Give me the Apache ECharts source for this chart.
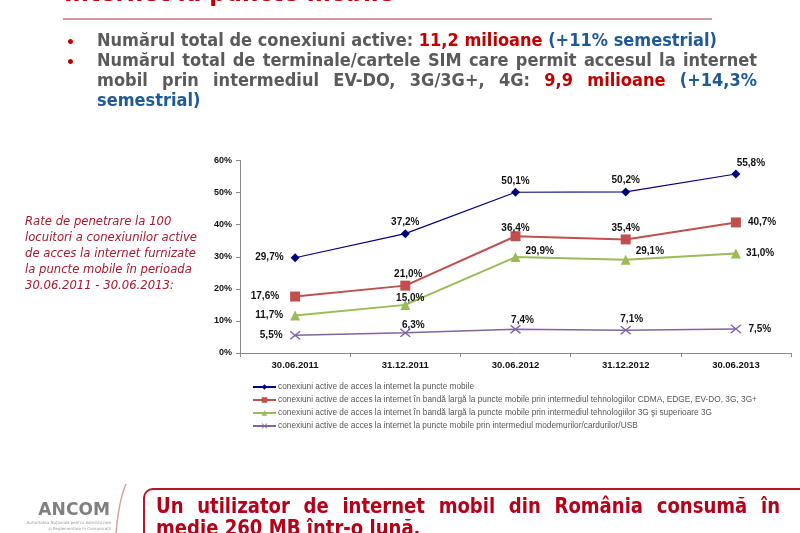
<!DOCTYPE html>
<html><head><meta charset="utf-8">
<script src="https://cdn.jsdelivr.net/npm/echarts@6/dist/echarts.min.js"></script>
<style>html,body{margin:0;padding:0;background:#fff}#c{width:800px;height:533px}</style>
</head><body><div id="c"></div>
<script>
// ---------- data ----------
const categories = ['30.06.2011', '31.12.2011', '30.06.2012', '31.12.2012', '30.06.2013'];
const seriesNames = [
  'conexiuni active de acces la internet la puncte mobile',
  'conexiuni active de acces la internet în bandă largă la puncte mobile prin intermediul tehnologiilor CDMA, EDGE, EV-DO, 3G, 3G+',
  'conexiuni active de acces la internet în bandă largă la puncte mobile prin intermediul tehnologiilor 3G şi superioare 3G',
  'conexiuni active de acces la internet la puncte mobile prin intermediul modemurilor/cardurilor/USB'
];
const activeMobile = [29.7, 37.2, 50.1, 50.2, 55.8];
const broadbandCdma3g = [17.6, 21.0, 36.4, 35.4, 40.7];
const broadband3gPlus = [11.7, 15.0, 29.9, 29.1, 31.0];
const modemUsb = [5.5, 6.3, 7.4, 7.1, 7.5];
const yMin = 0, yMax = 60, yStep = 10;

// ---------- styles ----------
const colors = ['#000080', '#c0504d', '#9bbb59', '#8064a2'];
const symbols = ['diamond', 'rect', 'triangle', 'path://M0,1L1,0L5,4L9,0L10,1L6,5L10,9L9,10L5,6L1,10L0,9L4,5Z'];
const symbolSizes = [9, 10, 10, [11, 9]];
const lineWidths = [1.2, 2, 2, 1.5];
const labelPlacement = [
  [['left', [-2, 0]], ['top', [0, 3]], ['top', [0, 3]], ['top', [0, 3]], ['top', [15, 4]]],
  [['left', [-6, 0]], ['top', [3, 4]], ['top', [0, 7]], ['top', [0, 4]], ['right', [2, 0]]],
  [['left', [-2, 0]], ['top', [5, 8]], ['right', [0, -6]], ['right', [0, -8]], ['right', [0, 0]]],
  [['left', [-2, 0]], ['top', [8, 7]], ['top', [7, 5]], ['top', [6, 4]], ['right', [2, 0]]]
];
const seriesValues = [activeMobile, broadbandCdma3g, broadband3gPlus, modemUsb];
const fmt = v => v.toFixed(1).replace('.', ',') + '%';

// ---------- text helpers ----------
const mctx = document.createElement('canvas').getContext('2d');
function mw(t, font) { mctx.font = font; return mctx.measureText(t).width; }
function words(segments) {
  const out = [];
  segments.forEach(s => s.t.split(' ').filter(w => w).forEach(w => out.push({ t: w, c: s.c })));
  return out;
}
function textRow(segments, x0, y, font, scale, x1) {
  const ws = words(segments);
  const widths = ws.map(w => mw(w.t, font) * scale);
  const total = widths.reduce((a, b) => a + b, 0);
  const gap = x1 ? (x1 - x0 - total) / (ws.length - 1) : mw(' ', font) * scale;
  let x = x0;
  return ws.map((w, i) => {
    const el = { type: 'text', x: x, y: y, scaleX: scale, silent: true,
      style: { text: w.t, font: font, fill: w.c, align: 'left', verticalAlign: 'middle' } };
    x += widths[i] + gap;
    return el;
  });
}

const gray = '#5a5a5a', red = '#c00000', blue = '#1f5a96';
const bulletFont = 'bold 17px "DejaVu Sans"';
const line1 = [{ t: 'Numărul total de conexiuni active:', c: gray }, { t: '11,2 milioane', c: red }, { t: '(+11% semestrial)', c: blue }];
const line1Natural = words(line1).reduce((a, w) => a + mw(w.t, bulletFont), 0) + (words(line1).length - 1) * mw(' ', bulletFont);
const bScale = 620 / line1Natural;

const graphics = [];
// title (cut off at top)
graphics.push({ type: 'text', x: 64, y: -6, silent: true,
  style: { text: 'Internet la puncte mobile', font: 'bold 25px "DejaVu Sans"', fill: '#c00000', verticalAlign: 'middle' }, scaleX: 0.92 });
graphics.push({ type: 'line', silent: true, shape: { x1: 63, y1: 19, x2: 712, y2: 19 }, style: { stroke: '#a8323e', lineWidth: 1.2 } });
// bullets
graphics.push({ type: 'text', x: 66, y: 43, silent: true, style: { text: '•', font: 'bold 14px "DejaVu Sans"', fill: red, verticalAlign: 'middle' } });
graphics.push({ type: 'text', x: 66, y: 63, silent: true, style: { text: '•', font: 'bold 14px "DejaVu Sans"', fill: red, verticalAlign: 'middle' } });
graphics.push(...textRow(line1, 97, 42, bulletFont, bScale));
graphics.push(...textRow([{ t: 'Numărul total de terminale/cartele SIM care permit accesul la internet', c: gray }], 97, 62, bulletFont, bScale, 757));
graphics.push(...textRow([{ t: 'mobil prin intermediul EV-DO, 3G/3G+, 4G:', c: gray }, { t: '9,9 milioane', c: red }, { t: '(+14,3%', c: blue }], 97, 82, bulletFont, bScale, 757));
graphics.push(...textRow([{ t: 'semestrial)', c: blue }], 97, 102, bulletFont, bScale));

// left italic note
const noteLines = ['Rate de penetrare la 100', 'locuitori a conexiunilor active', 'de acces la internet furnizate', 'la puncte mobile în perioada', '30.06.2011 - 30.06.2013:'];
const noteFont = 'italic 13px "DejaVu Sans"';
const noteScale = 172 / mw(noteLines[1], noteFont);
noteLines.forEach((t, i) => graphics.push({ type: 'text', x: 25, y: 222 + i * 15.8, scaleX: noteScale, silent: true,
  style: { text: t, font: noteFont, fill: '#a8192e', verticalAlign: 'middle' } }));

// bottom: logo + message box
graphics.push({ type: 'text', x: 110, y: 510, silent: true, scaleX: 0.95,
  style: { text: 'ANCOM', font: 'bold 18px "DejaVu Sans"', fill: '#808080', align: 'right', verticalAlign: 'middle' } });
graphics.push({ type: 'text', x: 111, y: 523, silent: true,
  style: { text: 'Autoritatea Naţională pentru Administrare', font: '4px "DejaVu Sans"', fill: '#999', align: 'right', verticalAlign: 'middle' } });
graphics.push({ type: 'text', x: 111, y: 529, silent: true,
  style: { text: 'şi Reglementare în Comunicaţii', font: '4px "DejaVu Sans"', fill: '#999', align: 'right', verticalAlign: 'middle' } });
graphics.push({ type: 'bezierCurve', silent: true, shape: { x1: 126, y1: 484, x2: 116, y2: 533, cpx1: 119, cpy1: 500 },
  style: { stroke: '#d9a0a6', lineWidth: 1.5, fill: null } });
graphics.push({ type: 'rect', silent: true, shape: { x: 144, y: 489, width: 680, height: 80, r: 9 },
  style: { fill: '#fff', stroke: '#b5162b', lineWidth: 2 } });
const boxFont = 'bold 21px "DejaVu Sans"';
const boxLine1 = [{ t: 'Un utilizator de internet mobil din România consumă în', c: '#b5001a' }];
graphics.push(...textRow(boxLine1, 156, 508, boxFont, 0.86, 780));
graphics.push(...textRow([{ t: 'medie 260 MB într-o lună.', c: '#b5001a' }], 156, 530, boxFont, 0.86));

// ---------- chart ----------
const series = seriesValues.map((vals, si) => ({
  name: seriesNames[si],
  type: 'line',
  data: vals.map((v, i) => ({ value: v, label: { position: labelPlacement[si][i][0], offset: labelPlacement[si][i][1] } })),
  symbol: symbols[si],
  symbolSize: symbolSizes[si],
  showAllSymbol: true,
  lineStyle: { color: colors[si], width: lineWidths[si] },
  itemStyle: { color: colors[si] },
  label: { show: true, formatter: p => fmt(p.value), fontFamily: 'Arial, "Liberation Sans"', fontWeight: 'bold', fontSize: 10, color: '#111' },
  emphasis: { disabled: true },
  animation: false,
  z: 10 - si
}));

const chart = echarts.init(document.getElementById('c'), null, { renderer: 'canvas' });
chart.setOption({
  backgroundColor: '#fff',
  animation: false,
  grid: { left: 240, right: 9, top: 160.5, bottom: 180 },
  xAxis: {
    type: 'category', data: categories, boundaryGap: true,
    axisLine: { lineStyle: { color: '#8a8a8a', width: 1 } },
    axisTick: { show: true, length: 4, lineStyle: { color: '#8a8a8a' } },
    axisLabel: { margin: 7, fontFamily: 'Arial, "Liberation Sans"', fontWeight: 'bold', fontSize: 9.5, color: '#111' }
  },
  yAxis: {
    type: 'value', min: yMin, max: yMax, interval: yStep,
    axisLine: { show: true, lineStyle: { color: '#8a8a8a', width: 1 } },
    axisTick: { show: true, length: 4, lineStyle: { color: '#8a8a8a' } },
    splitLine: { show: false },
    axisLabel: { margin: 8, formatter: '{value}%', fontFamily: 'Arial, "Liberation Sans"', fontWeight: 'bold', fontSize: 9, color: '#111' }
  },
  legend: {
    data: seriesNames, orient: 'vertical', left: 252, top: 383,
    itemWidth: 23, itemHeight: 7, itemGap: 5, padding: 0,
    textStyle: { fontFamily: 'Arial, "Liberation Sans"', fontSize: 8.3, color: '#555', padding: [0, 0, 0, -3] },
    selectedMode: false
  },
  series: series,
  graphic: graphics
});
</script></body></html>
